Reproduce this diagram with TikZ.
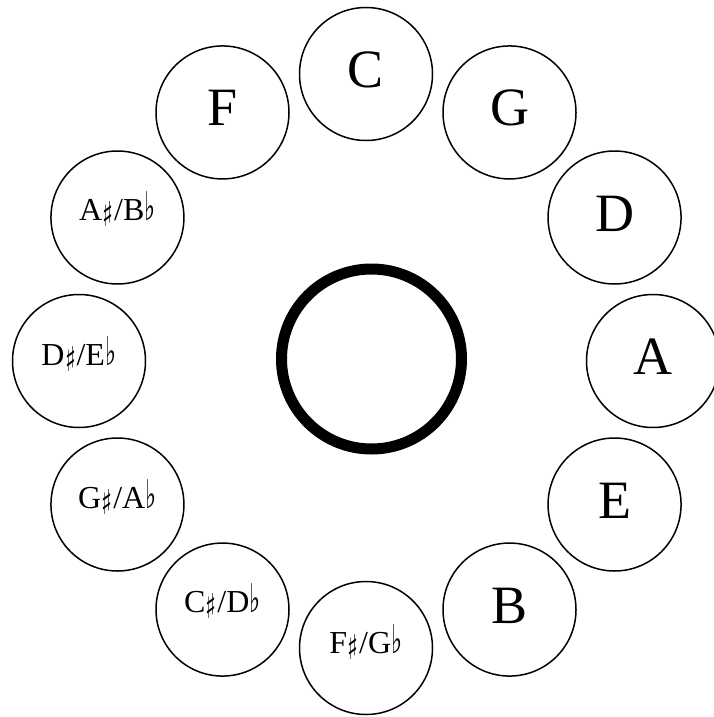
\documentclass[tikz,border=0pt]{standalone}
\usepackage{fontspec}
\usepackage{graphicx}
\usetikzlibrary{calc}
\setmainfont{Liberation Serif}
\newfontfamily\symfont{DejaVu Sans}
\newcommand{\shp}{\hspace{0.5pt}\raisebox{-6pt}{\resizebox*{11pt}{25pt}{\raisebox{\depth}{\symfont ♯}}}\hspace{0.5pt}}
\newcommand{\flt}{\hspace{0.5pt}\raisebox{-0.5pt}{\resizebox*{11pt}{29pt}{\raisebox{\depth}{\symfont ♭}}}}
\begin{document}
\begin{tikzpicture}[x=1pt,y=1pt,
  keyc/.style={circle,draw=black,line width=1.5pt,minimum size=133pt,inner sep=0pt,fill=white},
  bigl/.style={anchor=base,inner sep=0pt,font=\fontsize{54}{54}\selectfont},
  smalll/.style={anchor=base,inner sep=0pt,font=\fontsize{32}{32}\selectfont},
  hub/.style={circle,draw=black,line width=11pt,minimum size=180pt,inner sep=0pt}]
\useasboundingbox (0,-717) rectangle (714,0);
\coordinate (O) at (366,-361);
\node[hub] (center) at (371.5,-359) {};
% big labels
\foreach \nm/\ang in {C/90,G/60,D/30,A/0,E/-30,B/-60,F/120}{
  \node[keyc] (k\nm) at ($(O)+(\ang:287)$) {};
  \node[bigl] (t\nm) at ($(k\nm.center)+(0,-13.5)$) {\nm};
}
\node[keyc] (kFs) at ($(O)+(-90:287)$) {};
\node[smalll] (tFs) at ($(kFs.center)+(0,-5)$) {F\shp/G\flt};
\node[keyc] (kCs) at ($(O)+(-120:287)$) {};
\node[smalll] (tCs) at ($(kCs.center)+(0,-3)$) {C\shp/D\flt};
\node[keyc] (kGs) at ($(O)+(-150:287)$) {};
\node[smalll] (tGs) at ($(kGs.center)+(0,-4)$) {G\shp/A\flt};
\node[keyc] (kDs) at ($(O)+(180:287)$) {};
\node[smalll] (tDs) at ($(kDs.center)+(0,-4)$) {D\shp/E\flt};
\node[keyc] (kAs) at ($(O)+(150:287)$) {};
\node[smalll] (tAs) at ($(kAs.center)+(0,-3)$) {A\shp/B\flt};
\end{tikzpicture}
\end{document}
